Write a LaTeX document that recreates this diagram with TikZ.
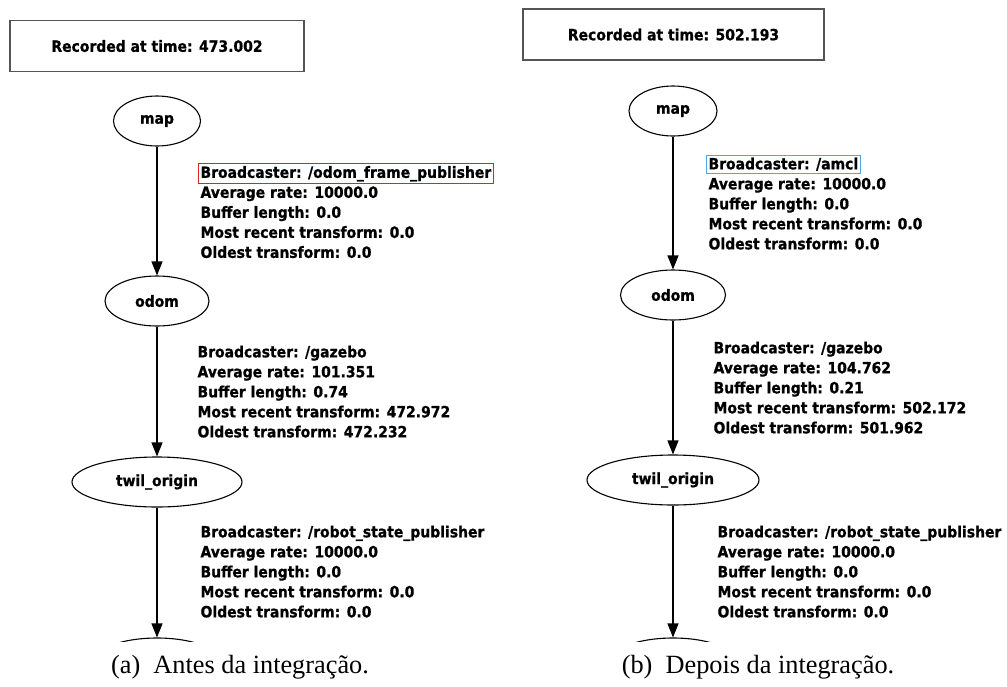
\documentclass[tikz,border=0pt]{standalone}
\usepackage{fontspec}
\setmainfont{Liberation Serif}
\newfontfamily\gvfont[FakeStretch=0.9,FakeBold=0.8]{DejaVu Sans}
\usetikzlibrary{shapes.geometric,arrows.meta,positioning}

\definecolor{hlred}{HTML}{E0202A}
\definecolor{hlblue}{HTML}{4AA8E8}
\definecolor{stampgray}{HTML}{555555}

% boxed first line of an edge label
\newcommand{\hlbox}[2]{{\setlength\fboxsep{2pt}\setlength\fboxrule{1pt}\hspace*{-3pt}\fcolorbox{#1}{white}{#2}}}

\tikzset{
  gvtext/.style={font={\gvfont\bfseries\fontsize{15.5}{20}\selectfont}},
  frame/.style={ellipse, draw, line width=1.1pt, inner sep=0pt, minimum height=50pt, gvtext},
  stamp/.style={rectangle, draw=stampgray, line width=1.4pt, inner sep=0pt, minimum height=51pt, gvtext},
  info/.style={anchor=north west, align=left, inner sep=0pt, gvtext},
  caption/.style={anchor=base, inner sep=0pt, font={\fontsize{26.3}{30}\selectfont}}
}

\begin{document}
\begin{tikzpicture}[
                    x=1pt, y=-1pt,
                    >={Triangle[length=14pt,width=11pt]},
                    line width=1.1pt
                   ]
  \useasboundingbox (0,0) rectangle (1007,686);

  % Blocks, before
  \node [stamp, minimum width=294pt] (recA) at (157,46) {Recorded at time: 473.002};
  \node [frame, minimum width=87pt] (mapA) at (157,121) {map};
  \node [frame, minimum width=104pt] (odomA) at (157,301) {odom};
  \node [frame, minimum width=170pt] (twilA) at (157,482) {twil\_origin};
  \begin{scope}
    \clip (0,600) rectangle (1007,641.5);
    \node [frame, minimum width=130pt] (nextA) at (157,663) {};
  \end{scope}

  \node [info] (tfA1) at (200,162.5) {\hlbox{hlred}{Broadcaster: /odom\_frame\_publisher}\\
    Average rate: 10000.0\\ Buffer length: 0.0\\ Most recent transform: 0.0\\ Oldest transform: 0.0};
  \node [info] (tfA2) at (197,345) {Broadcaster: /gazebo\\ Average rate: 101.351\\
    Buffer length: 0.74\\ Most recent transform: 472.972\\ Oldest transform: 472.232};
  \node [info] (tfA3) at (200,525) {Broadcaster: /robot\_state\_publisher\\ Average rate: 10000.0\\
    Buffer length: 0.0\\ Most recent transform: 0.0\\ Oldest transform: 0.0};

  % Blocks, after
  \node [stamp, minimum width=301pt] (recB) at (673.5,34.5) {Recorded at time: 502.193};
  \node [frame, minimum width=88pt] (mapB) at (673,111) {map};
  \node [frame, minimum width=105pt] (odomB) at (673,295) {odom};
  \node [frame, minimum width=172pt] (twilB) at (673,480) {twil\_origin};
  \begin{scope}
    \clip (0,600) rectangle (1007,641.5);
    \node [frame, minimum width=130pt] (nextB) at (673,663) {};
  \end{scope}

  \node [info] (tfB1) at (708,154) {\hlbox{hlblue}{Broadcaster: /amcl}\\
    Average rate: 10000.0\\ Buffer length: 0.0\\ Most recent transform: 0.0\\ Oldest transform: 0.0};
  \node [info] (tfB2) at (713,341) {Broadcaster: /gazebo\\ Average rate: 104.762\\
    Buffer length: 0.21\\ Most recent transform: 502.172\\ Oldest transform: 501.962};
  \node [info] (tfB3) at (717,525) {Broadcaster: /robot\_state\_publisher\\ Average rate: 10000.0\\
    Buffer length: 0.0\\ Most recent transform: 0.0\\ Oldest transform: 0.0};

  % Captions
  \node [caption] (capA) at (240,673) {(a)\hspace{0.5em}Antes da integração.};
  \node [caption] (capB) at (758,673) {(b)\hspace{0.5em}Depois da integração.};

  % Connections
  \draw [->] (mapA) -- (odomA);
  \draw [->] (odomA) -- (twilA);
  \draw [->] (twilA) -- (nextA);
  \draw [->] (mapB) -- (odomB);
  \draw [->] (odomB) -- (twilB);
  \draw [->] (twilB) -- (nextB);
\end{tikzpicture}
\end{document}
